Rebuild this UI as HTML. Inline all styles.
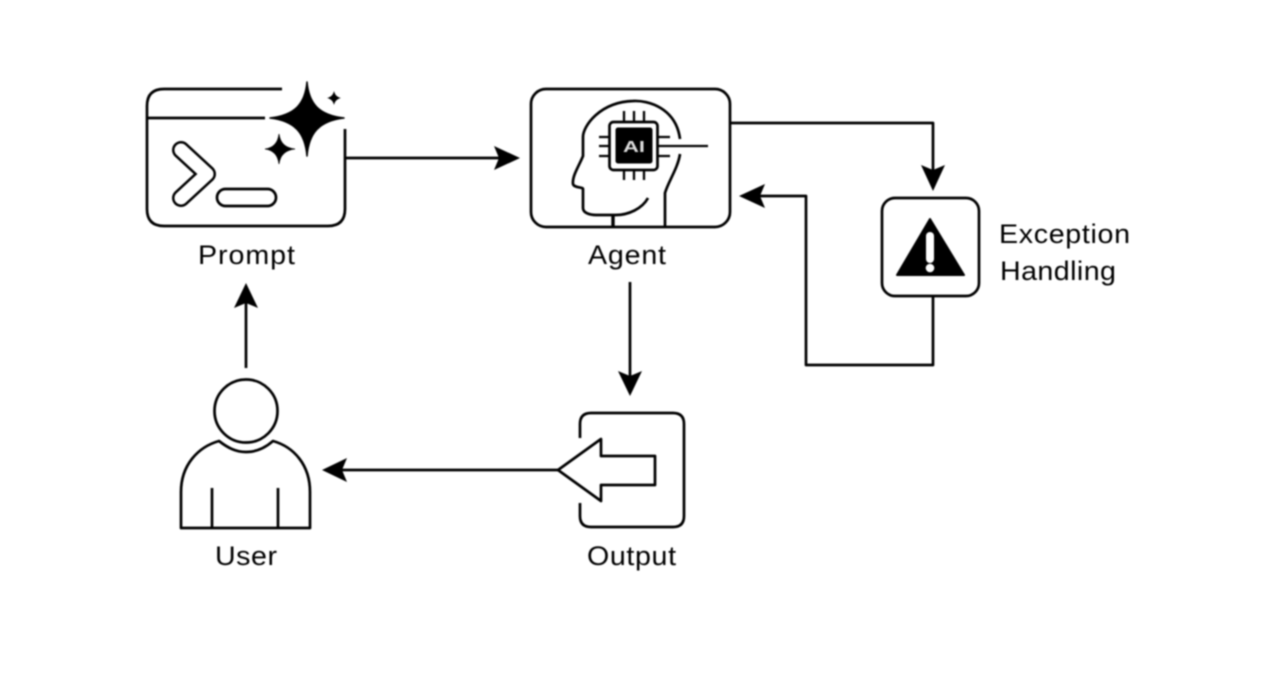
<!DOCTYPE html>
<html>
<head>
<meta charset="utf-8">
<style>
html,body{margin:0;padding:0;background:#fff;width:1282px;height:692px;overflow:hidden}
svg{display:block;filter:blur(0.8px)}
text{font-family:"Liberation Sans",sans-serif;font-size:27px;fill:#000}
</style>
</head>
<body>
<svg width="1282" height="692" viewBox="0 0 1282 692" xmlns="http://www.w3.org/2000/svg">
<rect width="1282" height="692" fill="#fff"/>
<g fill="none" stroke="#000" stroke-width="2.7" stroke-linejoin="round">
  <!-- Prompt -->
  <path d="M282 89H164Q147 89 147 106V209Q147 226 164 226H328Q345 226 345 209V129"/>
  <path d="M147 118H265"/>
  <path d="M181 150L207 174L181 198" stroke-width="18" stroke-linecap="round"/>
  <path d="M181 150L207 174L181 198" stroke="#fff" stroke-width="13" stroke-linecap="round"/>
  <rect x="217" y="189" width="59" height="17" rx="8.5"/>
  <!-- Agent -->
  <rect x="531" y="89" width="199" height="138" rx="15"/>
  <path d="M680 139C676 108 648 100 633 101C600 102 583 126 583 137V156C579 166 572 176 573 184C574 188 583 187 583 189V208C583 213 590 215 596 215H616C628 215 642 209 648 198"/>
  <path d="M613 215V227" stroke-width="3.4"/>
  <path d="M680 154C678 168 668 182 665 193V227"/>
  <rect x="609.500" y="122" width="48" height="48" rx="4"/>
  <rect x="616" y="128" width="36" height="35" rx="2" fill="#000" stroke-width="1"/>
  <path d="M624 111V122M634 111V122M644 111V122M624 170V180M634 170V180M644 170V180M599 137H609M599 146H609M599 156H609M658 137H670M658 156H670M658 146H708" stroke-width="2.300"/>
  <!-- Exception -->
  <rect x="882" y="198" width="97" height="98" rx="13"/>
  <path d="M930 219L964 275H897Z" fill="#000" stroke-width="2"/>
  <path d="M930 236V259" stroke="#fff" stroke-width="8" stroke-linecap="round"/>
  <circle cx="930" cy="268" r="4.300" fill="#fff" stroke="none"/>
  <!-- User -->
  <circle cx="246" cy="411" r="31.500"/>
  <path d="M181 528V492C181 465 198 447 219 441C228 448 236 452 246 452C256 452 265 448 273 441C294 447 310 465 310 492V528Z"/>
  <path d="M212 488V528M278 488V528"/>
  <!-- Output -->
  <path d="M580 438V424Q580 413 591 413H673Q684 413 684 424V516Q684 527 673 527H591Q580 527 580 516V503"/>
  <path d="M558 470L601 439V456H655V485H601V501Z"/>
  <!-- Connectors -->
  <path d="M345 158H500M731 123H933V170M933 296V365H806V196H760M630 282V376M246 368V303M558 470H342"/>
</g>
<g fill="#000">
  <!-- stars -->
  <path d="M307 82C309 104 319 115 344 118C319 121 309 133 307 156C305 133 295 121 270 118C295 115 305 104 307 82Z" stroke="#000" stroke-width="1.500" stroke-linejoin="round"/>
  <path d="M279 134C280 143 285 148 295 149C285 150 280 155 279 164C278 155 273 150 265 149C273 148 278 143 279 134Z" stroke="#000" stroke-width="0.800"/>
  <path d="M334 91C335 95 337 97 341 98C337 99 335 101 334 105C333 101 331 99 327 98C331 97 333 95 334 91Z"/>
  <!-- arrowheads -->
  <path d="M520 158L494 146L499 158L494 170Z"/>
  <path d="M933 191L921 165L933 170L945 165Z"/>
  <path d="M739 196L765 184L760 196L765 208Z"/>
  <path d="M630 396L618 371L630 376L642 371Z"/>
  <path d="M246 283L234 308L246 303L258 308Z"/>
  <path d="M322 470L347 458L342 470L347 482Z"/>
</g>
<text x="623" y="152" style="font-size:16px;font-weight:bold;fill:#ddd" textLength="22" lengthAdjust="spacingAndGlyphs">AI</text>
<text transform="translate(198 264) scale(1.06 1)" textLength="91.500" lengthAdjust="spacing">Prompt</text>
<text transform="translate(588 264) scale(1.06 1)" textLength="73.600" lengthAdjust="spacing">Agent</text>
<text transform="translate(999 243) scale(1.06 1)" textLength="123.600" lengthAdjust="spacing">Exception</text>
<text transform="translate(1000 280) scale(1.06 1)" textLength="109.400" lengthAdjust="spacing">Handling</text>
<text transform="translate(215 565) scale(1.06 1)" textLength="58.500" lengthAdjust="spacing">User</text>
<text transform="translate(587 565) scale(1.06 1)" textLength="84" lengthAdjust="spacing">Output</text>
</svg>
</body>
</html>
